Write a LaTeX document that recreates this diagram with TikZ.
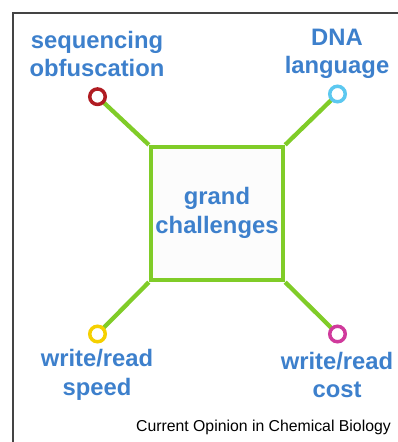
\documentclass[tikz,border=0pt]{standalone}
\usepackage{fontspec}
\setmainfont{Liberation Sans}
\usepackage{tikz}
\usetikzlibrary{backgrounds}

\definecolor{labelblue}{RGB}{61,128,204}
\definecolor{linegreen}{RGB}{128,204,40}
\definecolor{dotred}{RGB}{176,28,34}
\definecolor{dotcyan}{RGB}{92,200,240}
\definecolor{dotyellow}{RGB}{245,208,0}
\definecolor{dotpink}{RGB}{208,58,156}
\definecolor{framegray}{RGB}{68,68,68}

\tikzset{
  challenge/.style={text=labelblue, align=center, font=\fontsize{23.8}{28.5}\selectfont\bfseries},
  ring/.style={circle, draw=#1, fill=white, line width=3.5pt, minimum size=15.5pt, inner sep=0pt},
  spoke/.style={draw=linegreen, line width=4.3pt},
}

\begin{document}
\begin{tikzpicture}[x=1pt, y=-1pt]
\useasboundingbox (0,0) rectangle (398,442);
\draw[framegray, line width=1.5pt] (13,442) -- (13,13) -- (398,13); % frame

\node[spoke, fill=black!1, minimum width=132pt, minimum height=133pt, inner sep=0pt] (grand) at (217,213.5) {};
\node[challenge] (grandtxt) at (217,213) {grand\\challenges};

\node[ring=dotred] (obf) at (97.5,96.7) {}; % sequencing obfuscation
\node[ring=dotcyan] (dna) at (337.5,94) {}; % DNA language
\node[ring=dotyellow] (speed) at (97.5,334) {}; % write/read speed
\node[ring=dotpink] (cost) at (337.5,334) {}; % write/read cost

\begin{scope}[on background layer]
\draw[spoke] (grand.north west) -- (obf.center);
\draw[spoke] (grand.north east) -- (dna.center);
\draw[spoke] (grand.south west) -- (speed.center);
\draw[spoke] (grand.south east) -- (cost.center);
\end{scope}

\node[challenge] (obftxt) at (97,54) {sequencing\\obfuscation};
\node[challenge] (dnatxt) at (337,54) {DNA\\language};
\node[challenge] (speedtxt) at (97,375) {write/read\\speed};
\node[challenge] (costtxt) at (337,375) {write/read\\cost};

\node[anchor=base east, inner sep=0pt, font=\fontsize{15.8}{18}\selectfont] (journal) at (391,431.7) {Current Opinion in Chemical Biology};
\end{tikzpicture}
\end{document}
